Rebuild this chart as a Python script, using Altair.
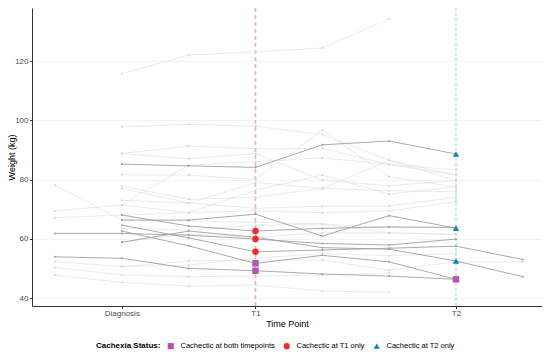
import altair as alt
import pandas as pd

# ---- data ----
time_index = [0, 1, 2, 3, 4, 5, 6, 7]
tick_positions = [1, 3, 6]
tick_labels = ["Diagnosis", "T1", "T2"]
y_ticks = [40, 60, 80, 100, 120]

# cachectic patients (darker lines)
dark_patients = {
    "D1": [None, 85.2, 84.6, 84.1, 91.7, 93.0, 88.6, None],
    "D2": [None, 66.3, 66.3, 68.3, 60.9, 67.8, 63.6, None],
    "D3": [None, 68.0, 64.3, 62.6, 63.5, 64.0, 63.8, None],
    "D4": [61.8, 61.8, 61.2, 59.9, 58.4, 57.9, 59.9, None],
    "D5": [None, 64.6, 60.3, 55.6, 56.2, 56.8, 57.5, 53.0],
    "D6": [None, 62.6, 57.6, 51.7, 54.4, 52.2, 46.3, None],
    "D7": [53.9, 53.4, 50.0, 49.2, 48.1, 47.4, 46.3, None],
    "D8": [None, 58.8, 62.6, 60.5, 57.0, 56.5, 52.5, 47.2],
}

# non-cachectic patients (light lines)
light_patients = {
    "L1": [None, 115.7, 122.0, 123.1, 124.4, 134.3, None, None],
    "L2": [None, 97.8, 98.6, 98.0, 95.2, 86.5, 81.5, None],
    "L3": [None, 88.8, 91.3, 90.4, 90.5, 85.1, 83.2, None],
    "L4": [None, 88.8, 87.0, 88.8, 79.8, 77.9, 79.6, None],
    "L5": [None, 81.6, 81.5, 80.0, 96.7, 80.9, 77.5, None],
    "L6": [None, 77.8, 73.3, 74.0, 77.0, 76.2, 75.9, None],
    "L7": [None, 77.0, 72.1, 70.3, 71.0, 71.1, 74.0, None],
    "L8": [69.4, 71.4, 84.9, 86.0, 87.3, 85.1, 81.5, None],
    "L9": [78.1, 66.3, 66.0, 65.5, 65.0, 62.0, 61.5, None],
    "L10": [67.1, 68.0, 68.8, 69.5, 68.8, 69.4, 72.5, None],
    "L11": [None, 71.4, 68.8, 76.4, 81.5, 75.1, 77.5, None],
    "L12": [52.3, 50.6, 52.5, 52.8, 52.8, 49.4, 52.2, 52.2],
    "L13": [50.3, 47.8, 47.2, 47.4, 47.8, 48.4, None, None],
    "L14": [47.7, 45.3, 44.0, 44.4, 42.4, 41.9, None, None],
    "L15": [None, 59.0, 61.5, 60.5, 62.0, 62.0, 61.5, None],
    "L16": [None, 50.6, 51.1, 53.5, 55.0, 54.3, 55.0, None],
    "L17": [None, 63.5, 63.0, 64.5, 65.0, 63.8, 64.0, None],
    "L18": [None, 73.0, 72.0, 79.0, 77.0, 86.5, 79.6, None],
}

status_names = ["Cachectic at both timepoints", "Cachectic at T1 only", "Cachectic at T2 only"]
status_colors = ["#B455B4", "#F52A2A", "#1380C3"]
status_shapes = ["square", "circle", "triangle-up"]

marker_status = [status_names[0]] * 3 + [status_names[1]] * 3 + [status_names[2]] * 3
marker_time = [3, 3, 6, 3, 3, 3, 6, 6, 6]
marker_weight = [51.7, 49.2, 46.3, 62.6, 59.9, 55.6, 88.6, 63.6, 52.5]

t1_time = [3]
t2_time = [6]


def to_long(patients):
    rows = []
    for pid, vals in patients.items():
        for t, w in zip(time_index, vals):
            if w is not None:
                rows.append({"pid": pid, "time": t, "weight": w})
    return pd.DataFrame(rows)


dark_df = to_long(dark_patients)
light_df = to_long(light_patients)
markers_df = pd.DataFrame({"status": marker_status, "time": marker_time, "weight": marker_weight})

label_expr = " : ".join(
    f"datum.value == {p} ? '{l}'" for p, l in zip(tick_positions[:-1], tick_labels[:-1])
) + f" : '{tick_labels[-1]}'"

x_scale = alt.Scale(domain=[-0.344, 7.287], nice=False, zero=False)
y_scale = alt.Scale(domain=[37.3, 137.9], nice=False, zero=False)

x_enc = alt.X(
    "time:Q", scale=x_scale, title="Time Point",
    axis=alt.Axis(values=tick_positions, labelExpr=label_expr, grid=False,
                  domainColor="#333333", tickColor="#333333", tickSize=2.5,
                  labelPadding=1, labelColor="#4D4D4D", labelFontSize=8,
                  titleFontSize=9, titleFontWeight="normal", titleColor="#000000",
                  titlePadding=2, labelFont="Liberation Sans", titleFont="Liberation Sans"),
)
y_enc = alt.Y(
    "weight:Q", scale=y_scale, title="Weight (kg)",
    axis=alt.Axis(values=y_ticks, grid=True, gridColor="#EBEBEB", gridWidth=0.6,
                  domainColor="#333333", tickColor="#333333", tickSize=2.5,
                  labelPadding=1.5, labelColor="#4D4D4D", labelFontSize=8,
                  titleFontSize=9, titleFontWeight="normal", titleColor="#000000",
                  titleX=-16, titleY=149, titleAngle=270, titleBaseline="bottom",
                  titleAlign="center",
                  labelFont="Liberation Sans", titleFont="Liberation Sans"),
)

rule_t1 = alt.Chart(pd.DataFrame({"time": t1_time})).mark_rule(
    strokeDash=[4, 3], strokeWidth=1.6, stroke="#F7ACAC", color="#F7ACAC").encode(
    x=alt.X("time:Q", scale=x_scale))
rule_t2 = alt.Chart(pd.DataFrame({"time": t2_time})).mark_rule(
    strokeDash=[3, 2], strokeWidth=1, stroke="#96CFE8", color="#96CFE8").encode(
    x=alt.X("time:Q", scale=x_scale))

light_lines = alt.Chart(light_df).mark_line(strokeWidth=0.6, color="#DEDEDE").encode(
    x=x_enc, y=y_enc, detail="pid:N", order="time:Q")
light_pts = alt.Chart(light_df).mark_point(filled=True, size=4, color="#D4D4D4", opacity=1).encode(
    x="time:Q", y="weight:Q")

dark_lines = alt.Chart(dark_df).mark_line(strokeWidth=0.9, color="#A0A0A0").encode(
    x="time:Q", y="weight:Q", detail="pid:N", order="time:Q")
dark_pts = alt.Chart(dark_df).mark_point(filled=True, size=4, color="#A0A0A0", opacity=1).encode(
    x="time:Q", y="weight:Q")

markers = alt.Chart(markers_df).mark_point(filled=True, size=42, opacity=1).encode(
    x="time:Q", y="weight:Q",
    color=alt.Color("status:N", scale=alt.Scale(domain=status_names, range=status_colors),
                    title="Cachexia Status:"),
    shape=alt.Shape("status:N", scale=alt.Scale(domain=status_names, range=status_shapes),
                    title="Cachexia Status:"),
)

chart = alt.layer(rule_t1, rule_t2, light_lines, light_pts, dark_lines, dark_pts, markers).properties(
    width=510, height=298,
    padding={"left": 24, "top": 0, "right": 0, "bottom": 45},
    autosize=alt.AutoSizeParams(type="none"),
).configure_view(stroke=None).configure_legend(
    orient="none", legendX=64, legendY=334, direction="horizontal",
    titleOrient="left", titleFontSize=8, titleFontWeight="bold", titleColor="#000000",
    titleFont="Liberation Sans", labelFont="Liberation Sans", labelFontSize=7.5,
    labelColor="#000000", symbolSize=38, symbolStrokeWidth=0, columnPadding=8,
    labelOffset=6, titlePadding=6, titleBaseline="middle",
)

chart.save("out.html", embed_options={"renderer": "svg", "actions": False})
